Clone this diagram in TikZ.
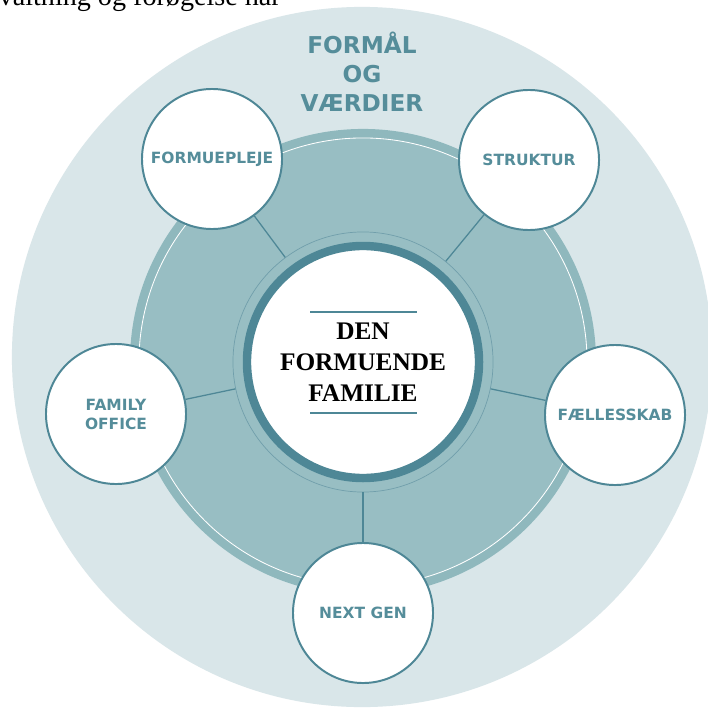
\documentclass[tikz,border=0pt]{standalone}
\usepackage{fontspec}
\setmainfont{Liberation Serif}
\newfontfamily\labelfont{DejaVu Sans}
\definecolor{ringdark}{HTML}{4E8796}
\definecolor{labteal}{HTML}{558D9A}
\definecolor{outerfill}{HTML}{D9E6E9}
\definecolor{midband}{HTML}{8FB8BD}
\definecolor{midfill}{HTML}{98BEC3}
\begin{document}
\begin{tikzpicture}[x=0.025cm,y=-0.025cm,
    sat/.style={circle,draw=ringdark,line width=1.4pt,fill=white,
      minimum size=3.5cm,inner sep=0pt,align=center,text=labteal,
      font=\labelfont\bfseries\fontsize{11}{13.5}\selectfont},
    spoke/.style={draw=ringdark,line width=0.9pt}]
  \clip (0,0) rectangle (708,708);
  \fill[white] (0,0) rectangle (708,708);
  % line of text cut by the top edge
  \node[anchor=base east,inner sep=0pt,font=\fontsize{20}{22}\selectfont]
    (cap) at (281,6) {forvaltning og forøgelse har};
  % rings
  \fill[outerfill] (362,357) circle (8.75cm);
  \fill[midband] (363,362) circle (5.825cm);
  \fill[midfill] (363,362) circle (5.6cm);
  \draw[white,line width=0.6pt] (363,362) circle (5.6cm);
  \node[text=labteal,align=center,
    font=\labelfont\bfseries\fontsize{16.5}{20.5}\selectfont]
    (title) at (362,72) {FORMÅL\\OG\\VÆRDIER};
  % centre
  \draw[ringdark,line width=6pt,fill=white] (363,362) circle (2.9cm);
  \node[circle,draw=ringdark!80,line width=0.5pt,minimum size=6.5cm,
    align=center,font=\bfseries\fontsize{18}{22}\selectfont]
    (fam) at (363,362) {DEN\\FORMUENDE\\FAMILIE};
  \draw[ringdark,line width=0.8pt] (310,312) -- (417,312);
  \draw[ringdark,line width=0.8pt] (310,413) -- (417,413);
  % satellites
  \draw
    (212,159) node[sat] (pleje){FORMUEPLEJE}
    (529,160) node[sat] (struk){STRUKTUR}
    (615,415) node[sat] (faelles){FÆLLESSKAB}
    (363,613) node[sat] (nextgen){NEXT GEN}
    (116,414) node[sat] (office){FAMILY\\OFFICE};
  \begin{scope}[spoke]
    \draw (fam) to (pleje);
    \draw (fam) to (struk);
    \draw (fam) to (faelles);
    \draw (fam) to (nextgen);
    \draw (fam) to (office);
  \end{scope}
\end{tikzpicture}
\end{document}
